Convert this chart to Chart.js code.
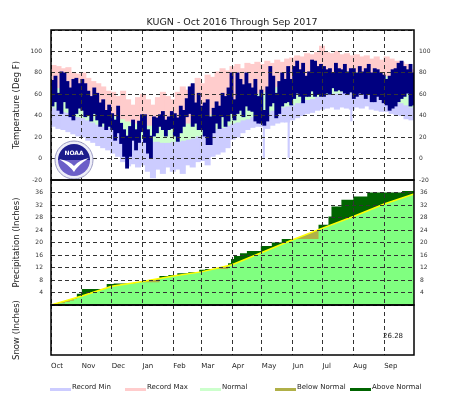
<!DOCTYPE html>
<html>
<head>
<meta charset="utf-8">
<script src="https://cdn.jsdelivr.net/npm/chart.js@4.4.1/dist/chart.umd.min.js"></script>
<style>
  body { margin: 0; background: #fff; }
  #wrap { position: relative; width: 464px; height: 395px; font-family: "DejaVu Sans", sans-serif; color: #222; }
  #wrap canvas { position: absolute; left: 0; top: 0; }
  #title { position: absolute; left: 0; top: 16px; width: 464px; text-align: center; font-size: 9.5px; line-height: 11px; }
  .sw { position: absolute; top: 388px; width: 21px; height: 3px; }
  .lt { position: absolute; top: 383px; font-size: 7px; line-height: 9px; white-space: nowrap; }
</style>
</head>
<body>
<div id="wrap">
  <canvas id="temp-chart" width="464" height="395"></canvas>
  <canvas id="precip-chart" width="464" height="395"></canvas>
  <canvas id="snow-chart" width="464" height="395"></canvas>
  <div id="title">KUGN - Oct 2016 Through Sep 2017</div>
  <div class="sw" style="left:50px;background:#ccccff"></div><div class="lt" style="left:72px">Record Min</div>
  <div class="sw" style="left:125px;background:#ffcccc"></div><div class="lt" style="left:147px">Record Max</div>
  <div class="sw" style="left:200px;background:#ccffcc"></div><div class="lt" style="left:222px">Normal</div>
  <div class="sw" style="left:275px;background:#b0b048"></div><div class="lt" style="left:297px">Below Normal</div>
  <div class="sw" style="left:350px;background:#006400"></div><div class="lt" style="left:372px">Above Normal</div>
</div>
<script>
// month axis: day offsets from Oct 1 2016
const monthStart = [0, 31, 61, 92, 123, 151, 182, 212, 243, 273, 304, 335];
const monthNames = ['Oct', 'Nov', 'Dec', 'Jan', 'Feb', 'Mar', 'Apr', 'May', 'Jun', 'Jul', 'Aug', 'Sep'];

// observed daily extremes, 3-day periods (deg F)
const actualHigh = [
  73, 77, 61, 81, 80, 72, 66, 74, 75, 70,
  74, 70, 63, 58, 66, 61, 52, 55, 45, 50,
  42, 36, 49, 33, 27, 21, 30, 36, 27, 35, 41,
  41, 27, 21, 39, 38, 41, 44, 36, 39, 44,
  42, 38, 49, 45, 56, 67, 70, 52, 61,
  49, 52, 55, 39, 47, 53, 49, 61, 58, 66, 80,
  55, 80, 74, 69, 80, 70, 66, 74, 58, 64,
  45, 67, 86, 77, 61, 72, 80, 74, 86, 74,
  86, 91, 83, 89, 77, 81, 92, 91, 86, 88,
  86, 83, 84, 80, 89, 84, 83, 88, 81, 84,
  84, 80, 86, 81, 84, 88, 80, 84, 83, 80, 78,
  74, 77, 83, 84, 89, 91, 86, 83, 88, 80
];
const actualLow = [
  49, 53, 45, 42, 53, 47, 39, 36, 42, 47,
  45, 39, 41, 35, 42, 36, 30, 33, 27, 30,
  27, 17, 24, 14, 2, -9, 2, 17, 8, 15, 25,
  15, 5, 0, 21, 24, 30, 27, 21, 27, 28,
  21, 16, 24, 30, 39, 42, 30, 33, 27,
  27, 21, 13, 13, 24, 33, 28, 39, 30, 35, 42,
  36, 42, 45, 39, 49, 45, 44, 35, 33, 33,
  31, 35, 49, 52, 38, 42, 49, 52, 53, 50,
  56, 61, 58, 52, 58, 58, 63, 58, 60, 58,
  58, 61, 60, 66, 63, 64, 63, 61, 60, 62,
  56, 58, 61, 60, 56, 60, 53, 53, 58, 55, 52,
  50, 45, 47, 49, 53, 56, 58, 61, 49, 50
];

// climate values, 5-day periods (deg F)
const recordHigh = [
  87, 86, 84, 85, 80, 79,
  80, 75, 72, 70, 67, 63,
  62, 58, 63, 55, 50, 57,
  60, 55, 50, 57, 62, 58, 55,
  62, 67, 64, 69, 75,
  70, 78, 76, 81, 84, 82,
  86, 88, 84, 89, 88, 90,
  88, 91, 89, 92, 90, 93, 94,
  96, 95, 98, 97, 99,
  105, 99, 98, 100, 97, 98, 96,
  97, 95, 96, 93, 95, 92,
  95, 93, 91, 90, 88, 83
];
const normalHigh = [
  68, 66, 63, 61, 59, 57,
  55, 52, 50, 47, 45, 43,
  41, 39, 37, 35, 34, 33,
  32, 31, 31, 30, 30, 30, 31,
  31, 32, 33, 35, 36,
  38, 40, 42, 44, 46, 48,
  50, 52, 55, 57, 59, 61,
  62, 64, 66, 67, 69, 70, 72,
  73, 75, 76, 78, 79,
  80, 80, 81, 81, 82, 82, 82,
  81, 81, 80, 80, 79, 78,
  77, 75, 73, 72, 70, 68
];
const normalLow = [
  48, 46, 44, 43, 41, 39,
  38, 36, 34, 32, 30, 29,
  27, 25, 23, 22, 20, 19,
  18, 17, 16, 16, 15, 15, 16,
  16, 17, 18, 19, 21,
  22, 24, 26, 28, 29, 31,
  33, 34, 36, 37, 39, 40,
  42, 43, 45, 46, 48, 49, 50,
  52, 53, 55, 56, 58,
  59, 60, 61, 61, 62, 62, 62,
  62, 62, 61, 61, 60, 59,
  58, 56, 54, 52, 50, 48
];
const recordLow = [
  30, 28, 27, 25, 23, 21,
  20, 17, 15, 12, 10, 8,
  5, 2, -3, -7, -5, -8,
  -6, -12, -18, -10, -14, -8, -12,
  -10, -14, -6, -8, -3,
  -2, -6, 2, 4, 6, 10,
  18, 20, 24, 27, 29, 30,
  30, 28, 31, 33, 34, 34, 36,
  38, 40, 42, 43, 45,
  46, 47, 48, 46, 48, 47, 46,
  48, 47, 49, 46, 45, 44,
  44, 42, 41, 40, 37, 36
];
// single days where the record-min bar dips far below the rest
const recordLowDipDays = [214, 239, 302];
const recordLowDipLow = [1, 1, 35];
const recordLowDipTop = [44, 49, 61];

// cumulative precipitation (inches)
const normalPrecipDays = [0, 31, 61, 92, 123, 151, 182, 212, 243, 273, 304, 335, 365];
const normalPrecip = [0, 2.9, 6.0, 7.5, 9.3, 10.6, 12.9, 16.8, 20.9, 24.6, 28.3, 32.3, 35.5];
const actualPrecipDays = [0, 3, 8, 14, 19, 23, 26, 31, 56, 63, 85, 109, 118, 127, 138, 149, 155,
  178, 181, 184, 190, 197, 211, 222, 232, 269, 279, 282, 292, 304, 318, 353, 365];
const actualPrecip = [0, 0.3, 0.6, 1.0, 1.4, 1.9, 3.6, 5.1, 6.7, 6.9, 7.3, 9.3, 9.6, 10.2, 10.5, 11.3, 11.5,
  13.4, 14.7, 15.7, 16.6, 17.3, 18.9, 20.0, 21.1, 25.7, 28.3, 31.5, 33.7, 34.7, 36.0, 36.5, 36.8];

const snowTotalText = '26.28';

Chart.defaults.font.family = '"DejaVu Sans", sans-serif';
Chart.defaults.color = '#333';

const actualDays = actualHigh.map((v, i) => i * 3 + 1.5);
const climoDays = recordHigh.map((v, i) => i * 5 + 2.5);
const pairUp = (days, lo, hi) => days.map((d, i) => ({x: d, y: [lo[i], hi[i]]}));
const points = (days, vals) => days.map((d, i) => ({x: d, y: vals[i]}));

const gridDash = [4, 3];
const leftWidth = 51, rightWidth = 50;

function monthAxis(showLabels) {
  return {
    type: 'linear', min: 0, max: 365, offset: false,
    afterBuildTicks: (s) => { s.ticks = monthStart.map(v => ({value: v})); },
    afterFit: (s) => { s.height = showLabels ? 40 : 0; },
    ticks: {
      display: showLabels, align: 'start', autoSkip: false, maxRotation: 0, padding: 7,
      font: {size: 7}, color: '#222',
      callback: (v, i) => monthNames[i]
    },
    grid: {color: '#333', lineWidth: 1, drawTicks: false, offset: false, z: 1},
    border: {display: false, dash: gridDash}
  };
}

function sideAxis(pos, min, max, step, hidden, padding, title, withGrid) {
  return {
    type: 'linear', position: pos, min: min, max: max,
    afterFit: (s) => { s.width = pos === 'left' ? leftWidth : rightWidth; },
    ticks: {
      stepSize: step, padding: padding, font: {size: 6}, color: '#333',
      callback: (v) => hidden.includes(v) ? '' : v
    },
    grid: {display: withGrid, color: '#333', lineWidth: 1, drawTicks: false, z: 1},
    border: {display: false, dash: gridDash},
    title: title ? {display: true, text: title, font: {size: 8.5}, color: '#222', padding: {top: 12, bottom: 0}} : {display: false}
  };
}

const framePlugin = {
  id: 'frame',
  afterDraw(chart) {
    const {ctx, chartArea: a} = chart;
    ctx.save();
    ctx.strokeStyle = '#000';
    ctx.lineWidth = 1.5;
    ctx.strokeRect(a.left, a.top, a.right - a.left, a.bottom - a.top);
    ctx.restore();
  }
};

const logoPlugin = {
  id: 'logo',
  afterDraw(chart) {
    const {ctx, chartArea: a} = chart;
    const cx = a.left + 23, cy = a.bottom - 20;
    ctx.save();
    ctx.beginPath(); ctx.arc(cx, cy, 19, 0, Math.PI * 2);
    ctx.fillStyle = '#eeeef8'; ctx.fill();
    ctx.strokeStyle = '#9c9cc4'; ctx.lineWidth = 1; ctx.stroke();
    ctx.beginPath(); ctx.arc(cx, cy, 16, Math.PI, Math.PI * 2); ctx.closePath();
    ctx.fillStyle = '#1c1c8c'; ctx.fill();
    ctx.beginPath(); ctx.arc(cx, cy, 16, 0, Math.PI); ctx.closePath();
    ctx.fillStyle = '#6c5fc8'; ctx.fill();
    ctx.beginPath();
    ctx.moveTo(cx - 15, cy - 1);
    ctx.quadraticCurveTo(cx - 4, cy + 1, cx, cy + 6);
    ctx.quadraticCurveTo(cx + 5, cy + 0, cx + 15, cy - 2);
    ctx.quadraticCurveTo(cx + 4, cy + 5, cx, cy + 12);
    ctx.quadraticCurveTo(cx - 5, cy + 5, cx - 15, cy - 1);
    ctx.fillStyle = '#fff'; ctx.fill();
    ctx.font = 'bold 6px "DejaVu Sans"';
    ctx.textAlign = 'center'; ctx.textBaseline = 'middle';
    ctx.fillText('NOAA', cx, cy - 7);
    ctx.restore();
  }
};

const snowTextPlugin = {
  id: 'snowText',
  afterDraw(chart) {
    const {ctx, chartArea: a} = chart;
    ctx.save();
    ctx.font = '7px "DejaVu Sans"';
    ctx.fillStyle = '#222';
    ctx.textAlign = 'left'; ctx.textBaseline = 'middle';
    ctx.fillText(snowTotalText, a.right - 31, a.top + 31);
    ctx.restore();
  }
};

const baseOptions = {
  responsive: false, animation: false, events: [],
  plugins: {legend: {display: false}, tooltip: {enabled: false}}
};

new Chart(document.getElementById('temp-chart'), {
  type: 'bar',
  data: {
    datasets: [
      {label: 'Observed', data: pairUp(actualDays, actualLow, actualHigh), backgroundColor: '#000080', barThickness: 3.2, order: 0},
      {label: 'Record Max', data: pairUp(climoDays, normalHigh, recordHigh), backgroundColor: '#ffcccc', barThickness: 5.4, order: 1},
      {label: 'Normal', data: pairUp(climoDays, normalLow, normalHigh), backgroundColor: '#ccffcc', barThickness: 5.4, order: 1},
      {label: 'Record Min', data: pairUp(climoDays, recordLow, normalLow), backgroundColor: '#ccccff', barThickness: 5.4, order: 1},
      {label: 'Record Min dips', data: pairUp(recordLowDipDays, recordLowDipLow, recordLowDipTop), backgroundColor: '#ccccff', barThickness: 1.5, order: 1}
    ]
  },
  options: Object.assign({}, baseOptions, {
    layout: {padding: {top: 30, bottom: 215, left: 0, right: 0}},
    datasets: {bar: {grouped: false, borderWidth: 0}},
    scales: {
      x: monthAxis(false),
      y: sideAxis('left', -20, 120, 20, [120], 9, 'Temperature (Deg F)', true),
      y2: sideAxis('right', -20, 120, 20, [120], 5, null, false)
    }
  }),
  plugins: [logoPlugin, framePlugin]
});

new Chart(document.getElementById('precip-chart'), {
  type: 'line',
  data: {
    datasets: [
      {label: 'Normal', data: points(normalPrecipDays, normalPrecip), borderWidth: 0, pointRadius: 0,
        fill: 'origin', backgroundColor: '#80ff80', order: 3},
      {label: 'Observed', data: points(actualPrecipDays, actualPrecip), borderWidth: 0, pointRadius: 0,
        stepped: 'before', fill: {target: 0, above: '#006400', below: '#b0b048'}, order: 2},
      {label: 'Normal line', data: points(normalPrecipDays, normalPrecip), borderColor: '#ffff00',
        borderWidth: 1.5, pointRadius: 0, fill: false, order: 1}
    ]
  },
  options: Object.assign({}, baseOptions, {
    layout: {padding: {top: 180, bottom: 90, left: 0, right: 0}},
    scales: {
      x: monthAxis(false),
      y: sideAxis('left', 0, 40, 4, [0, 40], 8, 'Precipitation (Inches)', true),
      y2: sideAxis('right', 0, 40, 4, [0, 40], 6, null, false)
    }
  }),
  plugins: [framePlugin]
});

new Chart(document.getElementById('snow-chart'), {
  type: 'line',
  data: {datasets: []},
  options: Object.assign({}, baseOptions, {
    layout: {padding: {top: 305, bottom: 0, left: 0, right: rightWidth}},
    scales: {
      x: monthAxis(true),
      y: Object.assign(sideAxis('left', 0, 10, 5, [], 8, 'Snow (Inches)', false), {
        ticks: {display: false}
      })
    }
  }),
  plugins: [snowTextPlugin, framePlugin]
});
</script>
</body>
</html>
